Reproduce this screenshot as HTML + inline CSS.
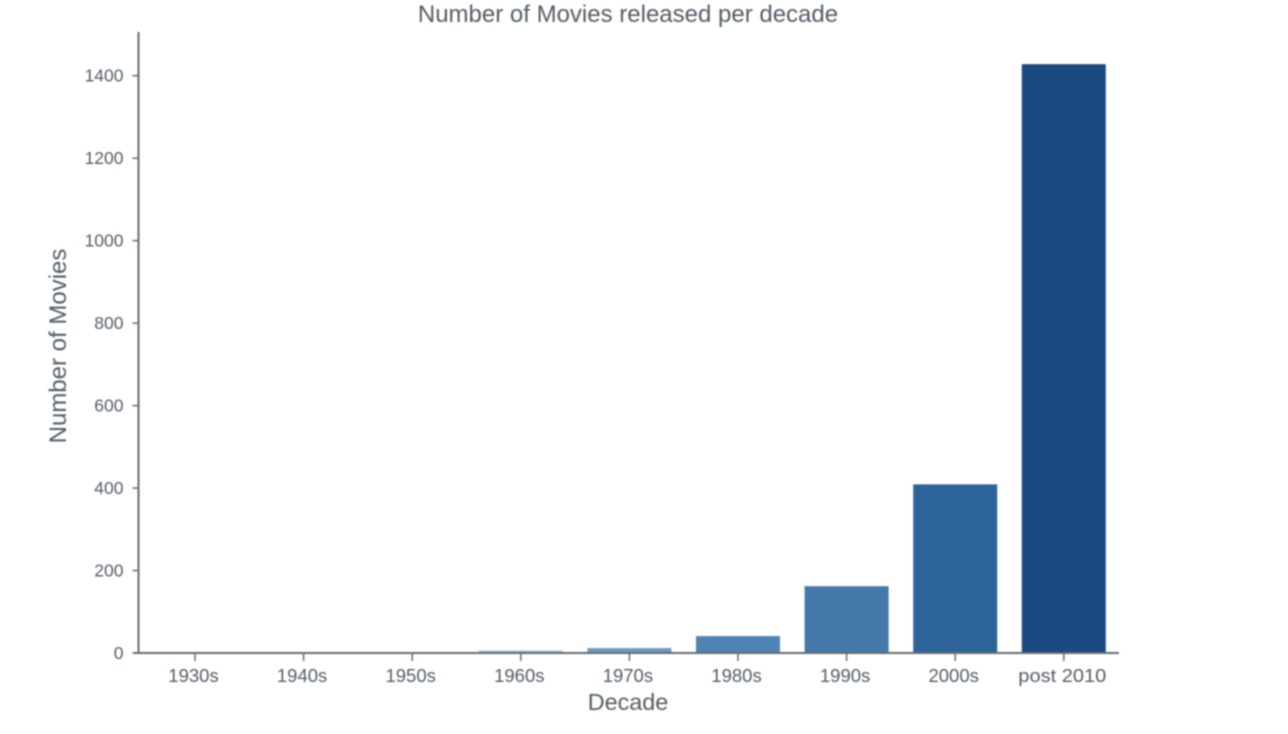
<!DOCTYPE html>
<html lang="en">
<head>
<meta charset="utf-8">
<title>Number of Movies released per decade</title>
<style>
html,body{margin:0;padding:0;background:#fff;width:1288px;height:734px;overflow:hidden}
svg{display:block;filter:blur(0.7px)}
text{font-family:"Liberation Sans",sans-serif;fill:#535c66}
</style>
</head>
<body>
<svg id="chart" width="1288" height="734" viewBox="0 0 1288 734" xmlns="http://www.w3.org/2000/svg">
<rect x="0" y="0" width="1288" height="734" fill="#ffffff"/>
<text x="628" y="22" font-size="24" text-anchor="middle">Number of Movies released per decade</text>
<text transform="translate(66 346) rotate(-90)" font-size="24" text-anchor="middle">Number of Movies</text>
<text x="628" y="710" font-size="23.4" text-anchor="middle">Decade</text>
<g id="bars"></g>
<g id="axes"></g>
</svg>
<script>
const categories = ['1930s', '1940s', '1950s', '1960s', '1970s', '1980s', '1990s', '2000s', 'post 2010'];
const movieCounts = [1, 1, 1, 6, 12, 41, 162, 409, 1428];
const yTicks = [0, 200, 400, 600, 800, 1000, 1200, 1400];
const palette = ['#e4edf6', '#d5e4f2', '#c4d8ec', '#9dbedc', '#7399c0', '#4f83b3', '#4478a8', '#2c6398', '#1a4a80'];

const NS = 'http://www.w3.org/2000/svg';
const barsLayer = document.getElementById('bars');
const axesLayer = document.getElementById('axes');
const axisColor = '#666b70';

const plotLeft = 138.5;
const plotRight = 1119;
const plotTop = 32;
const plotBottom = 653;
const firstCenter = 195;
const bandStep = 108.6;
const barWidth = 84;
const pxPerUnit = (653 - 75.7) / 1400;

function xScale(i) {
  return firstCenter + i * bandStep;
}
function yScale(v) {
  return plotBottom - v * pxPerUnit;
}
function make(tag, attrs) {
  const el = document.createElementNS(NS, tag);
  Object.keys(attrs).forEach(function (k) { el.setAttribute(k, attrs[k]); });
  return el;
}

categories.forEach(function (cat, i) {
  const top = yScale(movieCounts[i]);
  const bar = make('rect', {
    x: xScale(i) - barWidth / 2,
    y: top,
    width: barWidth,
    height: plotBottom - top,
    fill: palette[i]
  });
  
  
  barsLayer.appendChild(bar);
});

const ySpine = make('line', { x1: plotLeft, y1: plotTop, x2: plotLeft, y2: plotBottom, stroke: axisColor, 'stroke-width': 2 });


axesLayer.appendChild(ySpine);

const xSpine = make('line', { x1: plotLeft - 5, y1: plotBottom, x2: plotRight, y2: plotBottom, stroke: axisColor, 'stroke-width': 2 });


axesLayer.appendChild(xSpine);

yTicks.forEach(function (v) {
  const y = yScale(v);
  const tick = make('line', { x1: plotLeft - 6, y1: y, x2: plotLeft, y2: y, stroke: axisColor, 'stroke-width': 1.5 });
  
  
  axesLayer.appendChild(tick);
  const label = make('text', { x: plotLeft - 15, y: y + 6, 'font-size': 17.5, 'text-anchor': 'end' });
  
  
  label.textContent = String(v);
  axesLayer.appendChild(label);
});

categories.forEach(function (cat, i) {
  const x = xScale(i);
  const tick = make('line', { x1: x, y1: plotBottom, x2: x, y2: plotBottom + 8, stroke: axisColor, 'stroke-width': 1.5 });
  
  
  axesLayer.appendChild(tick);
  const label = make('text', { x: x - 1.5, y: 682, 'font-size': 18.5, 'text-anchor': 'middle' });
  if (cat.indexOf(' ') !== -1) {
    label.setAttribute('textLength', '88');
    label.setAttribute('lengthAdjust', 'spacingAndGlyphs');
  }
  
  
  label.textContent = cat;
  axesLayer.appendChild(label);
});
</script>
</body>
</html>
